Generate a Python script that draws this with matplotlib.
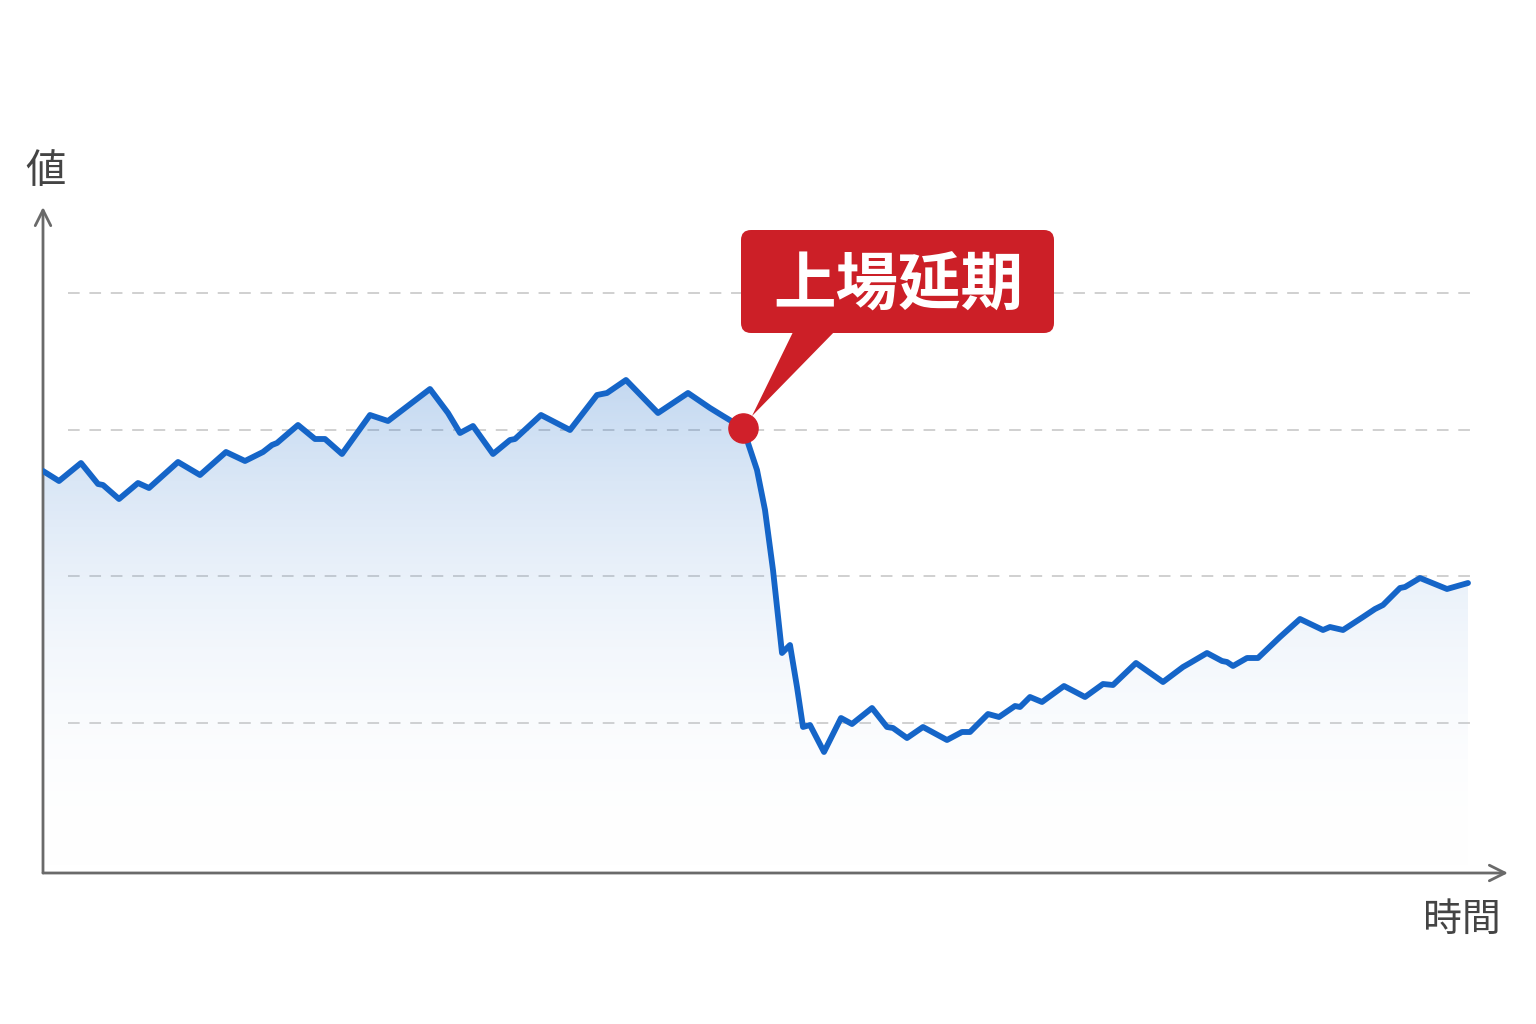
import numpy as np
import matplotlib
matplotlib.use("Agg")
import matplotlib.pyplot as plt
from matplotlib.patches import FancyBboxPatch, Polygon
from matplotlib.colors import LinearSegmentedColormap

plt.rcParams['font.family'] = ['Noto Sans CJK JP', 'DejaVu Sans']

# time (arbitrary units) and value
t = [0, 16, 38, 55, 60, 76, 95, 106, 135, 157, 183, 202, 220, 229, 234, 255, 272, 282,
     299, 327, 345, 387, 405, 417, 430, 450, 467, 472, 498, 527, 554, 564, 583, 615,
     645, 667, 680, 700, 714, 722, 730, 739, 747, 754, 760, 767, 781, 798, 809, 829,
     844, 850, 864, 880, 904, 919, 927, 945, 956, 972, 977, 987, 999, 1021, 1042,
     1060, 1070, 1093, 1120, 1140, 1147, 1164, 1179, 1184, 1190, 1204, 1215, 1237,
     1257, 1280, 1287, 1300, 1320, 1332, 1340, 1357, 1362, 1377, 1404, 1425]
v = [402, 392, 410, 389, 388, 374, 390, 385, 411, 398, 421, 412, 421, 428, 430, 448,
     434, 434, 419, 458, 452, 484, 460, 440, 447, 419, 433, 434, 458, 443, 478, 480,
     493, 460, 480, 465, 457, 445, 403, 363, 303, 220, 228, 186, 146, 148, 121, 155,
     149, 165, 146, 145, 135, 146, 133, 141, 141, 159, 156, 167, 166, 176, 171, 187,
     176, 189, 188, 210, 191, 206, 210, 220, 212, 211, 207, 215, 215, 236, 254, 243,
     246, 243, 256, 264, 268, 285, 286, 295, 284, 290]
grid_levels = [150, 297, 443, 580]
event_t, event_v = 700, 445
event_label = '上場延期'

blue = '#1565c8'
red = '#d0202a'
axis_col = '#6a6a6a'

fig = plt.figure(figsize=(15.36, 10.24), dpi=100)
fig.patch.set_facecolor('white')
ax = fig.add_axes([43 / 1536, 151 / 1024, 1465 / 1536, 666 / 1024])
ax.set_xlim(0, 1465)
ax.set_ylim(0, 666)
ax.axis('off')

# dashed gridlines
ax.hlines(grid_levels, 25, 1429, colors='#d0d0d0', linestyles=(0, (6, 5)), lw=1.4, zorder=1)

# gradient fill under the line
poly = ax.fill_between(t, v, 0, color='none', lw=0)
cmap = LinearSegmentedColormap.from_list('g', [(1, 1, 1, 0), (0.08, 0.40, 0.78, 0.26)])
grad = np.linspace(0, 1, 256).reshape(-1, 1)
img = ax.imshow(grad, extent=[t[0], t[-1], 0, 500], origin='lower', cmap=cmap,
                aspect='auto', zorder=2)
img.set_clip_path(poly.get_paths()[0], transform=ax.transData)

ax.plot(t, v, color=blue, lw=4.2, solid_joinstyle='round', solid_capstyle='round', zorder=4)
ax.plot([event_t], [event_v], 'o', ms=21, color=red, zorder=6)

# callout
box = FancyBboxPatch((698, 540), 313, 103, boxstyle='round,pad=0,rounding_size=10',
                     fc='#cc1f27', ec='none', zorder=7, clip_on=False)
ax.add_patch(box)
ax.add_patch(Polygon([(752, 545), (795, 545), (709, 457)], closed=True,
                     fc='#cc1f27', ec='none', zorder=7, clip_on=False))
ax.text(855, 587, event_label, color='white', fontsize=45, fontweight='bold',
        ha='center', va='center', zorder=8)

# axes arrows
arrow = dict(arrowstyle='->', lw=2, color=axis_col, mutation_scale=28, shrinkA=0, shrinkB=0)
ax.annotate('', xy=(0, 1), xytext=(0, 0), xycoords='axes fraction', arrowprops=arrow)
ax.annotate('', xy=(1, 0), xytext=(0, 0), xycoords='axes fraction', arrowprops=arrow)

fig.text(45 / 1536, 1 - 172 / 1024, '値', fontsize=29, color='#444444', ha='center', va='center')
fig.text(1462 / 1536, 1 - 920 / 1024, '時間', fontsize=28, color='#444444', ha='center', va='center')

fig.savefig('out.png', dpi=100)
